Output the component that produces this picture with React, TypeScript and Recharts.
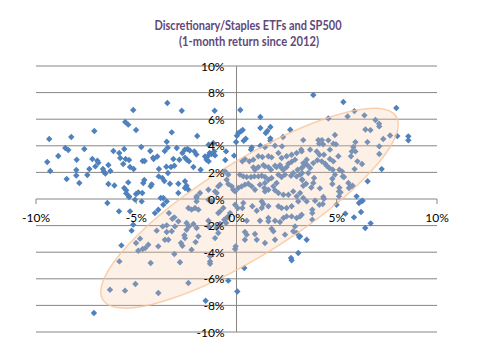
import { ScatterChart, Scatter, XAxis, YAxis, CartesianGrid, ReferenceLine } from "recharts"

// monthly returns (%): x = SP500, y = discretionary vs staples ETF spread
const farLeft = [
  [-9.34, 4.51], [-9.44, 2.78], [-9.29, 2.11], [-8.89, 3.23], [-8.24, 4.66], [-8.54, 3.83], [-8.39, 3.68], [-8.47, 1.5],
  [-7.97, 2.95], [-7.99, 2.18], [-7.99, 1.77], [-7.84, 1.2], [-7.59, 3.76], [-7.44, 1.8], [-7.34, 2.26], [-7.19, 3.01],
  [-7.09, 5.11], [-7.04, 2.45], [-6.94, 2.88], [-6.89, 2.73], [-6.66, 2.26], [-6.62, 2.05], [-6.54, 1.92], [-6.39, 2.56],
  [-6.39, 1.13], [-6.29, 2.11], [-6.14, 3.61], [-6.09, 1.02], [-5.85, 3.46], [-5.8, 3.08], [-5.65, 2.63], [-5.6, 3.76],
  [-5.55, 5.79], [-5.53, 3.01], [-5.4, 5.59], [-5.36, 2.93], [-5.4, 1.25], [-5.6, 0.83], [-5.5, 0.65], [-5.5, 0.42],
  [-5.31, 2.41], [-5.13, 2.26], [-5.15, 6.69], [-5.01, 5.19], [-5.36, 0.15], [-5.01, 0.38], [-4.9, 0.5], [-4.7, 0.45],
  [-4.75, 3.91], [-4.68, 2.86], [-4.58, 2.86], [-4.65, 1.2], [-4.6, 1.43], [-4.3, 3.61], [-4.28, 0.95], [-4.23, 1.1],
  [-4.16, 3.11], [-4.13, 3.01], [-3.95, 3.2], [-3.87, 2.26], [-3.88, 1.7], [-3.7, 1.58], [-3.6, 1.35], [-3.58, 3.61],
  [-3.48, 4.31], [-3.45, 7.22], [-3.5, 2.43], [-3.43, 3.86], [-3.42, 1.95], [-3.78, 0.08], [-3.65, 0.08],
]

const nearLeft = [
  [-2.73, 6.64], [-1.09, 6.64], [-3.23, 5.01], [-1.96, 4.74], [-2.98, 3.83], [-2.58, 3.71], [-2.45, 3.76], [-2.33, 3.65],
  [-2.1, 3.58], [-2.0, 3.35], [-2.7, 3.46], [-2.57, 3.11], [-2.47, 2.95], [-2.37, 2.83], [-2.85, 2.95], [-3.15, 3.01],
  [-3.27, 2.41], [-3.1, 2.5], [-2.15, 2.41], [-1.79, 2.2], [-1.57, 3.2], [-1.44, 3.2], [-1.34, 3.46], [-1.24, 3.38],
  [-1.11, 3.58], [-1.49, 2.95], [-1.39, 2.83], [-1.07, 3.28], [-0.52, 3.58], [-0.56, 2.93], [-0.12, 3.26], [-1.16, 4.21],
  [-1.39, 4.08], [-0.02, 4.29], [0.02, 4.76], [0.09, 4.96], [0.21, 5.08], [0.31, 5.19], [0.19, 6.69],
  [-0.57, 2.08], [-0.41, 1.83], [-0.49, 1.45], [-0.41, 1.13], [-0.24, 0.95], [-0.16, 0.7], [-0.07, 0.57], [-0.91, 0.95],
  [-0.82, 1.08], [-1.07, 0.57], [-0.99, 0.45], [-1.4, 0.7], [-1.82, 0.45], [-1.99, 0.2], [-2.9, 0.45], [-2.57, 1.33],
  [-2.49, 1.0], [-2.57, 0.83], [-2.4, 0.7], [-2.9, 1.15], [-3.32, 1.15],
]

const core = [
  [0.46, 4.53], [0.36, 4.38], [0.76, 3.88], [0.72, 3.71], [1.19, 6.17], [1.19, 5.34], [1.54, 5.11], [1.69, 5.41],
  [1.46, 4.96], [1.69, 4.56], [1.69, 4.38], [2.68, 5.21], [1.19, 4.01], [2.27, 3.96], [1.42, 3.9], [1.92, 4.01], [2.32, 4.66],
  [0.29, 2.83], [0.42, 3.01], [0.64, 2.83], [0.84, 2.96], [0.84, 2.38], [0.92, 2.2], [1.09, 2.4], [1.34, 2.55],
  [1.42, 2.45], [1.59, 2.4], [1.72, 2.2], [1.92, 2.5], [2.0, 2.4], [2.17, 2.55], [2.25, 2.33], [2.34, 2.2],
  [2.5, 2.4], [2.59, 2.65], [2.75, 2.8], [2.92, 2.96], [3.05, 2.2], [3.25, 2.33], [3.33, 2.7], [1.09, 3.21],
  [1.29, 3.16], [1.59, 3.21], [1.75, 3.13], [2.09, 3.46], [2.25, 3.08], [2.5, 3.21], [2.75, 3.33], [3.0, 3.46], [3.25, 3.58],
  [0.17, 1.83], [0.34, 1.7], [0.51, 1.65], [0.72, 1.65], [0.89, 1.7], [1.09, 1.7], [1.26, 1.75], [1.42, 1.65],
  [1.42, 1.2], [1.59, 1.45], [1.75, 1.58], [1.84, 0.95], [2.0, 1.2], [2.09, 1.83], [2.25, 1.65], [2.42, 1.83],
  [2.72, 1.75], [2.83, 1.95], [3.0, 1.7], [3.17, 1.83], [3.28, 1.45],
  [0.09, 0.83], [0.26, 0.95], [0.42, 1.08], [0.59, 1.15], [0.76, 0.95], [0.92, 0.7], [1.17, 1.08], [1.39, 0.83],
  [1.42, 0.57], [1.59, 0.7], [1.92, 0.65], [2.09, 0.45], [2.34, 0.32], [2.59, 0.32], [2.83, 0.57], [3.0, 0.2], [3.17, 0.45],
]

const upperRight = [
  [3.83, 7.82], [5.33, 7.29], [5.88, 6.61], [6.38, 6.29], [5.54, 6.21], [4.58, 6.06], [7.97, 6.84], [6.93, 5.94],
  [7.11, 5.66], [7.12, 5.46], [6.43, 5.23], [6.68, 5.18], [7.66, 4.78], [8.02, 4.73], [7.32, 4.51], [8.57, 4.71],
  [8.57, 4.41], [6.53, 4.28], [5.93, 4.28], [3.33, 4.43], [4.08, 4.43], [4.26, 4.43], [4.12, 4.16], [4.32, 4.11],
  [4.58, 4.41], [4.91, 4.81], [4.83, 4.16], [4.96, 4.11], [3.23, 3.71], [3.67, 3.71], [4.0, 3.58], [4.14, 3.33],
  [4.36, 3.33], [4.66, 3.71], [5.83, 3.91], [5.93, 3.58], [5.75, 3.58], [5.71, 3.21], [5.08, 3.21], [7.12, 3.96],
  [7.12, 3.38], [6.03, 2.83], [6.26, 2.63], [3.5, 2.96], [3.42, 2.7], [3.53, 2.55], [3.33, 2.45], [3.67, 2.33],
  [3.83, 2.7], [4.03, 2.91], [4.25, 2.83], [4.42, 2.65], [4.66, 3.01], [4.5, 2.5], [4.63, 2.33], [4.83, 2.83],
  [4.8, 2.2], [4.91, 1.83], [5.13, 2.2], [5.26, 2.08], [5.3, 1.7], [5.36, 1.65], [5.89, 2.25], [7.24, 2.25],
  [3.27, 1.95], [3.58, 1.95], [3.87, 1.58], [3.27, 1.45], [3.47, 1.15], [3.33, 1.0], [3.83, 1.2], [4.16, 0.8],
  [4.78, 1.52], [4.78, 1.13], [5.58, 1.2], [5.7, 0.95], [5.61, 0.83], [5.79, 1.0], [5.13, 0.85], [5.11, 0.57],
  [5.19, 0.5], [5.11, 0.2], [6.54, 1.33], [4.33, 0.15], [3.73, 0.87],
]

const lowerRight = [
  [5.99, 0.2], [6.11, -0.3], [6.21, -0.18], [6.29, -0.13], [6.21, -0.98], [5.86, -1.38], [5.43, -1.1], [6.42, -2.18],
  [6.69, -1.83], [3.5, -3.06], [3.78, -0.81], [3.78, -1.06], [3.78, -1.56], [4.13, -0.43], [4.3, -0.38], [4.36, 0.02],
  [3.92, -0.13], [3.5, -0.18], [3.33, 0.07], [4.99, -0.43], [3.17, -1.31], [3.17, -2.81],
  [2.72, -4.44], [2.75, -4.61], [3.08, -4.06], [3.13, -2.86], [0.39, -5.19], [0.04, -6.95],
  [0.34, -0.3], [0.29, -0.68], [0.06, -0.68], [-0.07, -0.43], [1.26, -0.18], [1.34, -0.38], [1.26, -0.68], [1.59, -0.55],
  [2.09, -0.55], [2.25, -0.68], [2.5, -0.68], [2.75, -0.55], [3.08, -0.18], [0.79, -0.55], [1.01, -0.88],
  [0.51, -1.63], [1.17, -1.63], [1.59, -1.43], [1.59, -1.68], [1.92, -1.63], [2.17, -1.73], [2.34, -1.43], [2.5, -1.31],
  [2.75, -1.31], [3.0, -1.43], [3.25, -1.18],
  [0.42, -2.48], [0.51, -2.68], [0.42, -3.06], [0.92, -2.63], [1.01, -3.06], [1.42, -3.31], [1.84, -2.43], [1.75, -2.23],
  [1.92, -3.06], [2.42, -2.68], [2.83, -2.43], [3.0, -2.56], [2.92, -2.06],
]

const lowerLeft = [
  [-0.41, -6.14], [-1.54, -7.65], [-2.4, -6.32], [-2.82, -4.76], [-0.07, -3.76], [-0.04, -3.56], [-1.32, -4.31], [-1.32, -4.87],
  [-1.32, -4.69], [-3.1, -4.14], [-2.24, -3.81], [-2.04, -3.24], [-2.7, -3.51], [-2.77, -3.31], [-3.23, -2.43], [-3.4, -3.06],
  [-2.49, -2.31], [-2.37, -2.06], [-2.49, -1.81], [-2.6, -2.73], [-2.57, -2.94], [-1.99, -2.18], [-2.15, -1.88], [-1.9, -2.81],
  [-3.1, -1.38], [-2.9, -1.68], [-3.07, -2.06], [-0.99, -2.18], [-0.91, -2.56], [-1.07, -2.94], [-0.82, -1.88], [-0.61, -1.56],
  [-0.49, -1.43], [-0.41, -1.31], [-0.32, -1.06], [-0.52, -1.81], [-1.4, -1.63], [-1.4, -2.06], [-2.4, -0.68], [-2.24, -0.8],
  [-2.07, -0.68], [-1.9, -0.8], [-1.99, 0.07], [-1.99, -0.18], [-0.91, -1.06], [-0.82, -0.93], [-0.66, -0.68], [-1.4, -0.05],
  [-1.24, -0.18], [-3.37, -1.06], [-3.2, -1.48],
  [-6.44, -0.3], [-5.86, -0.93], [-5.36, 0.2], [-5.06, -0.05], [-4.73, -0.18], [-5.31, -0.93], [-5.15, -1.93], [-5.23, -2.38],
  [-3.9, -0.81], [-3.65, -0.43], [-3.48, -0.18], [-4.07, -1.06], [-3.68, -2.06], [-3.48, -1.98], [-3.48, -2.48], [-3.98, -2.38],
  [-3.57, -3.06], [-5.74, -3.49], [-5.01, -3.31], [-4.81, -2.98], [-4.9, -3.89], [-4.68, -3.76], [-4.55, -3.69], [-4.4, -3.44],
  [-3.9, -3.56], [-4.28, -4.81], [-5.84, -4.69], [-6.31, -6.82], [-5.56, -6.89], [-5.04, -6.39], [-3.9, -7.07], [-7.11, -8.57],
]

// centre of the highlighted ellipse
const ellipseCenter = [[0.65, -0.69]]

const xTicks = [-10, -5, 0, 5, 10]
const yTicks = [-10, -8, -6, -4, -2, 0, 2, 4, 6, 8, 10]

const W = 478
const H = 343
const margin = { top: 66, right: 41, bottom: 10, left: 35 }
const PLOT_L = margin.left + 1
const PLOT_B = H - margin.bottom - 1
const ZERO_X = PLOT_L + (W - margin.right - PLOT_L) / 2
const ZERO_Y = margin.top + (PLOT_B - margin.top) / 2
const font = "Lato, 'Open Sans', sans-serif"

const points = [...farLeft, ...nearLeft, ...core, ...upperRight, ...lowerRight, ...lowerLeft].map(([x, y]) => ({ x, y }))
const ellipseData = ellipseCenter.map(([x, y]) => ({ x, y }))

function XTick({ x, payload }: any) {
  return (
    <g>
      <line x1={x} x2={x} y1={ZERO_Y} y2={ZERO_Y + 5} stroke="#868686" />
      <text x={x} y={ZERO_Y + 18} textAnchor="middle" dominantBaseline="central" fontFamily={font} fontSize={12} fill="#000">
        {`${payload.value}%`}
      </text>
    </g>
  )
}

function YTick({ y, payload }: any) {
  return (
    <text x={ZERO_X - 12} y={y} textAnchor="end" dominantBaseline="central" fontFamily={font} fontSize={12} fill="#000">
      {`${payload.value}%`}
    </text>
  )
}

const Diamond = ({ cx, cy }: any) => (
  <path d={`M${cx},${cy - 3.2}L${cx + 3.2},${cy}L${cx},${cy + 3.2}L${cx - 3.2},${cy}Z`} fill="#4F81BD" />
)

const Oval = ({ cx, cy }: any) => (
  <ellipse
    cx={cx}
    cy={cy}
    rx={173}
    ry={47}
    transform={`rotate(-32 ${cx} ${cy})`}
    fill="#F8C6A0"
    fillOpacity={0.26}
    stroke="#F9C49A"
    strokeOpacity={0.8}
    strokeWidth={1.5}
  />
)

export default function App() {
  return (
    <div style={{ position: "absolute", left: 0, top: 0, width: W, height: H, background: "#fff" }}>
      <ScatterChart width={W} height={H} margin={margin}>
        <CartesianGrid vertical={false} stroke="#868686" />
        <XAxis
          type="number"
          dataKey="x"
          domain={[-10, 10]}
          ticks={xTicks}
          interval={0}
          height={1}
          axisLine={false}
          tickLine={false}
          tick={(p: any) => <XTick {...p} />}
        />
        <YAxis
          type="number"
          dataKey="y"
          domain={[-10, 10]}
          ticks={yTicks}
          interval={0}
          width={1}
          axisLine={false}
          tickLine={false}
          tick={(p: any) => <YTick {...p} />}
        />
        <ReferenceLine x={0} stroke="#868686" />
        <Scatter data={points} shape={<Diamond />} isAnimationActive={false} />
        <Scatter data={ellipseData} shape={<Oval />} isAnimationActive={false} />
      </ScatterChart>
      <svg width={W} height={60} style={{ position: "absolute", left: 0, top: 0, pointerEvents: "none" }}>
        <text x={248} y={29.5} textAnchor="middle" fontFamily={font} fontWeight="bold" fontSize={13} fill="#5F497A" textLength={187} lengthAdjust="spacingAndGlyphs">
          Discretionary/Staples ETFs and SP500
        </text>
        <text x={249} y={45.5} textAnchor="middle" fontFamily={font} fontWeight="bold" fontSize={13} fill="#5F497A" textLength={140} lengthAdjust="spacingAndGlyphs">
          (1-month return  since 2012)
        </text>
      </svg>
    </div>
  )
}
